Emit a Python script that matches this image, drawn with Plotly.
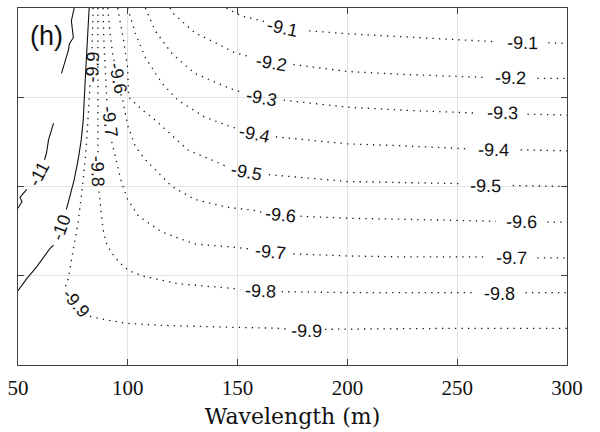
import plotly.graph_objects as go

# ---- data: contour lines (Wavelength on x, arbitrary y axis 0..4), None = gap for label ----
levels = ["-9.1", "-9.2", "-9.3", "-9.4", "-9.5", "-9.6", "-9.7", "-9.8", "-9.9", "-10", "-11"]

c91_x = [144.9, 151.6, 157.5, 162.9, None, 182.6, 200.0, 224.9, 250.0, 267.6, None, 291.5, 300.0]
c91_y = [4.0, 3.911, 3.878, 3.844, None, 3.744, 3.711, 3.678, 3.644, 3.622, None, 3.611, 3.6]

c92_x = [119.2, 121.0, 130.5, 138.1, 148.5, 155.2, None, 175.4, 200.0, 224.9, 250.0, 262.2, None, 286.5, 300.0]
c92_y = [4.0, 3.933, 3.722, 3.633, 3.5, 3.456, None, 3.367, 3.289, 3.256, 3.233, 3.222, None, 3.211, 3.211]

c93_x = [108.0, 112.5, 120.1, 130.5, 148.5, 152.1, None, 171.0, 200.0, 224.9, 250.0, 258.6, None, 282.0, 300.0]
c93_y = [4.0, 3.744, 3.489, 3.267, 3.078, 3.056, None, 2.967, 2.889, 2.856, 2.833, 2.822, None, 2.811, 2.8]

c94_x = [99.9, 103.5, 108.0, 115.6, 122.8, 135.0, 147.1, 148.9, None, 167.4, 200.0, 224.9, 250.0, 255.5, None, 278.9, 300.0]
c94_y = [4.0, 3.711, 3.444, 3.156, 2.967, 2.778, 2.667, 2.656, None, 2.556, 2.478, 2.456, 2.433, 2.422, None, 2.411, 2.4]

c95_x = [95.4, 98.1, 99.9, 100.4, 106.7, 112.5, 127.3, 142.6, 145.3, None, 164.2, 200.0, 224.9, 250.0, 252.8, None, 275.3, 300.0]
c95_y = [4.0, 3.633, 3.333, 3.0, 2.856, 2.744, 2.411, 2.244, 2.222, None, 2.133, 2.056, 2.044, 2.033, 2.022, None, 2.011, 2.0]

c96_x = [90.9, 91.8, 93.2, 94.1, None, 96.8, 97.7, 99.9, 103.5, 108.0, 115.6, 120.1, 130.5, 145.3, 157.5, 161.1, None,
         178.6, 200.0, 224.9, 250.0, 267.6, None, 291.0, 300.0]
c96_y = [4.0, 3.744, 3.467, 3.378, None, 3.033, 2.967, 2.689, 2.444, 2.3, 2.111, 2.0, 1.856, 1.767, 1.733, 1.711, None,
         1.667, 1.644, 1.633, 1.622, 1.611, None, 1.6, 1.6]

c97_x = [88.7, 89.1, 90.0, 90.5, None, 92.7, 93.2, 96.8, 99.9, 104.9, 115.6, 130.5, 147.1, 155.7, None,
         175.4, 200.0, 224.9, 250.0, 263.1, None, 286.5, 300.0]
c97_y = [4.0, 3.633, 3.189, 2.933, None, 2.5, 2.444, 2.078, 1.856, 1.667, 1.489, 1.356, 1.322, 1.3, None,
         1.244, 1.222, 1.211, 1.211, 1.211, None, 1.2, 1.2]

c98_x = [86.4, 86.4, 86.4, 86.4, None, 86.9, 88.7, 90.0, 92.3, 95.9, 100.4, 108.0, 122.8, 148.5, 151.2, None,
         170.1, 200.0, 224.9, 250.0, 257.7, None, 281.1, 300.0]
c98_y = [4.0, 3.411, 2.744, 2.378, None, 1.944, 1.522, 1.378, 1.267, 1.156, 1.056, 0.989, 0.911, 0.856, 0.844, None,
         0.822, 0.811, 0.811, 0.811, 0.811, None, 0.811, 0.811]

c99_x = [84.2, 83.7, 83.7, None, 82.8, 82.4, 81.9, 81.0, 79.7, 77.4, 75.2, 72.9, 71.6, None,
         82.8, 86.9, 99.0, 115.6, 148.5, 169.6, 172.8, None, 189.8, 250.0, 300.0]
c99_y = [4.0, 3.633, 3.522, None, 3.133, 2.967, 2.744, 2.411, 2.078, 1.6, 1.3, 0.967, 0.878, None,
         0.544, 0.522, 0.467, 0.444, 0.422, 0.411, 0.4, None, 0.4, 0.411, 0.411]

c10_x = [82.4, 81.5, 80.6, 79.7, 78.8, 77.4, 75.6, 72.9, 72.0, None, 66.2, 64.4, 58.5, 54.0, 50.0]
c10_y = [4.0, 3.633, 3.189, 2.744, 2.522, 2.3, 2.078, 1.822, 1.744, None, 1.344, 1.3, 1.1, 0.967, 0.833]

c11_x = [75.6, 74.3, 75.2, 73.4, 72.9, 71.1, 69.8, None, 66.2, 63.9, 63.0, 62.1, None, 54.0, 52.7, 50.9, 51.8, 50.45, 50.0]
c11_y = [4.0, 3.856, 3.667, 3.6, 3.522, 3.378, 3.267, None, 2.711, 2.522, 2.378, 2.3, None, 1.967, 1.933, 1.878, 1.833, 1.778, 1.756]

# contour labels: text, x, y (data units)
label_text = ["-9.1", "-9.1", "-9.2", "-9.2", "-9.3", "-9.3", "-9.4", "-9.4", "-9.5", "-9.5",
              "-9.6", "-9.6", "-9.6", "-9.7", "-9.7", "-9.7", "-9.8", "-9.8", "-9.8",
              "-9.9", "-9.9", "-9.9", "-10", "-11"]
label_x = [170.5, 279.8, 165.6, 274.4, 161.1, 270.8, 157.5, 266.7, 153.9, 263.1,
           95.4, 169.6, 279.3, 91.8, 165.1, 274.8, 86.4, 160.2, 269.4,
           83.7, 76.5, 181.3, 69.8, 59.4]
label_y = [3.778, 3.611, 3.389, 3.211, 2.989, 2.822, 2.589, 2.411, 2.167, 2.011,
           3.211, 1.678, 1.6, 2.722, 1.267, 1.2, 2.167, 0.833, 0.8,
           3.333, 0.7, 0.378, 1.544, 2.144]
label_angle = [12, 1, 10, 1, 11, 1, 12, 1, 11, 1,
               79, 6, 1, 83, 6, 1, 88, 3, 0,
               -87, 50, 1, -70, -62]

x_ticks = [50, 100, 150, 200, 250, 300]
y_ticks = [0, 1, 2, 3, 4]
x_title = "Wavelength (m)"
panel_tag = "(h)"

fig = go.Figure()

dotted = [c91_x, c92_x, c93_x, c94_x, c95_x, c96_x, c97_x, c98_x, c99_x]
dotted_y = [c91_y, c92_y, c93_y, c94_y, c95_y, c96_y, c97_y, c98_y, c99_y]
for name, xs, ys in zip(levels[:9], dotted, dotted_y):
    fig.add_trace(go.Scatter(x=xs, y=ys, mode="lines", name=name, showlegend=False,
                             line=dict(color="#111111", width=1.3, dash="1.3px,5.2px"),
                             hoverinfo="skip"))
for name, xs, ys in zip(levels[9:], [c10_x, c11_x], [c10_y, c11_y]):
    fig.add_trace(go.Scatter(x=xs, y=ys, mode="lines", name=name, showlegend=False,
                             line=dict(color="#111111", width=1.1), hoverinfo="skip"))

for t, x, y, a in zip(label_text, label_x, label_y, label_angle):
    fig.add_annotation(x=x, y=y, text=t, showarrow=False, textangle=a,
                       xanchor="center", yanchor="middle",
                       font=dict(family="Liberation Sans, Arial", size=18, color="#111111"))

fig.add_annotation(x=0.0513, y=0.922, xref="paper", yref="paper", text=panel_tag, showarrow=False,
                   xanchor="center", yanchor="middle",
                   font=dict(family="Liberation Sans, Arial", size=27, color="#111111"))

axis_col = "#404040"
fig.update_xaxes(range=[50, 300], tickvals=x_ticks, ticktext=[str(v) for v in x_ticks],
                 ticks="inside", ticklen=6, tickcolor=axis_col, tickwidth=1,
                 showline=True, linecolor=axis_col, linewidth=1, mirror="ticks",
                 showgrid=True, gridcolor="#e3e3e3", gridwidth=1, zeroline=False,
                 ticklabelstandoff=4,
                 tickfont=dict(family="Liberation Serif, Times New Roman", size=21, color="#111111"),
                 title=dict(text=x_title, standoff=9,
                            font=dict(family="DejaVu Serif", size=22, color="#111111")))
fig.update_yaxes(range=[0, 4], tickvals=y_ticks, showticklabels=False,
                 ticks="inside", ticklen=6, tickcolor=axis_col, tickwidth=1,
                 showline=True, linecolor=axis_col, linewidth=1, mirror="ticks",
                 showgrid=True, gridcolor="#e3e3e3", gridwidth=1, zeroline=False)

fig.update_layout(width=600, height=432, margin=dict(l=11, r=33, t=7, b=65),
                  plot_bgcolor="white", paper_bgcolor="white", showlegend=False)

fig.write_html("out.html")
